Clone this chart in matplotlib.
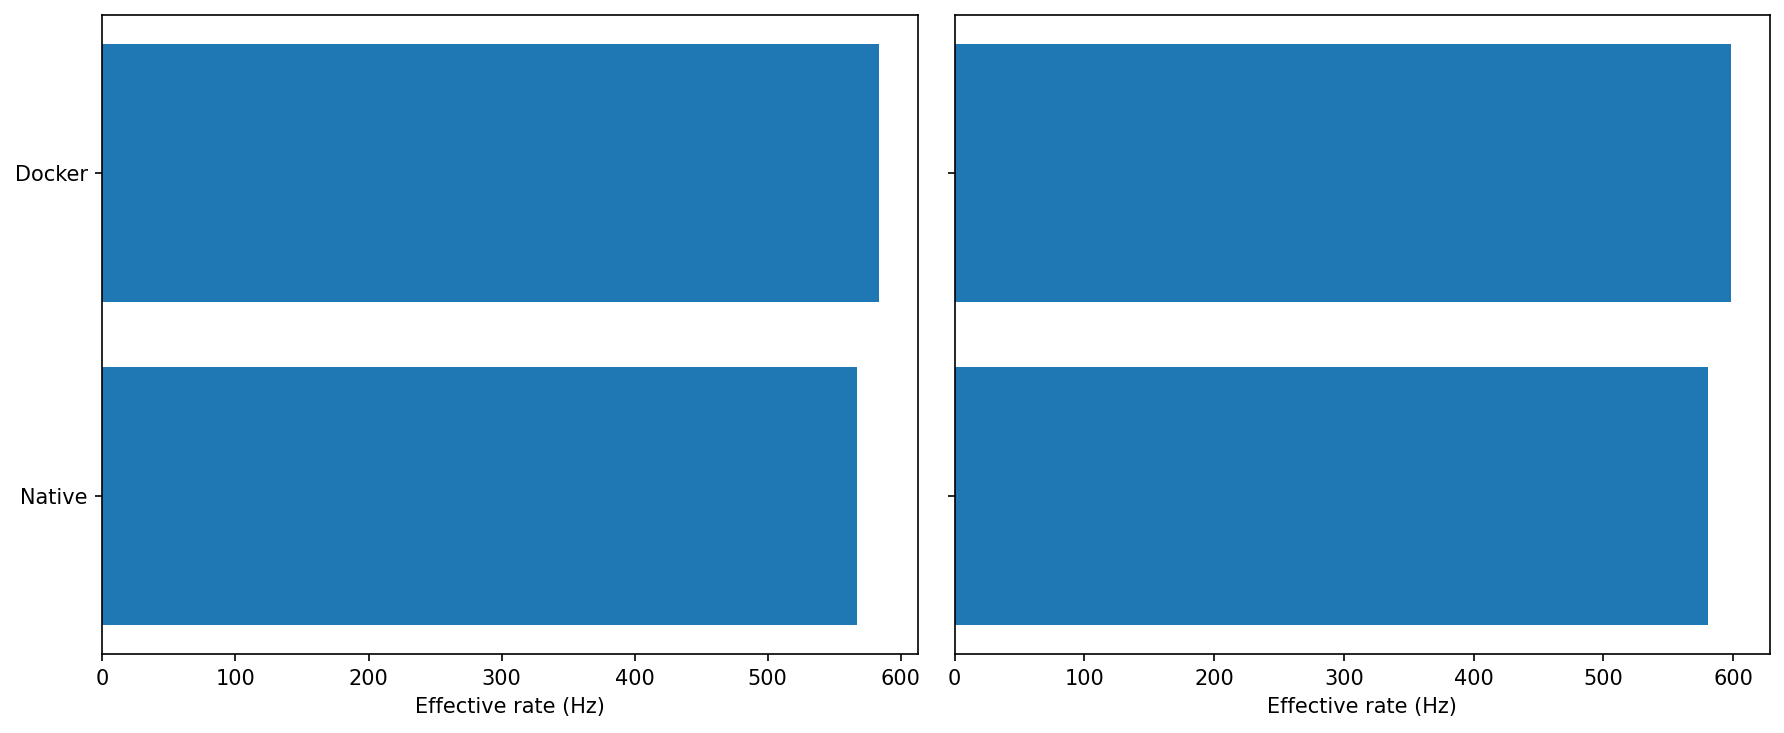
import matplotlib
matplotlib.use("Agg")
import matplotlib.pyplot as plt

labels = ["Native", "Docker"]
rate_left = [567.2, 583.7]
rate_right = [580.7, 598.5]

dpi = 150
fig, (ax1, ax2) = plt.subplots(1, 2, sharey=True, figsize=(1784 / dpi, 733 / dpi), dpi=dpi)

ax1.barh(labels, rate_left)
ax2.barh(labels, rate_right)

for ax in (ax1, ax2):
    ax.set_xlabel("Effective rate (Hz)")
    ax.set_xticks([0, 100, 200, 300, 400, 500, 600])

fig.subplots_adjust(left=0.0574, right=0.9922, bottom=0.1078, top=0.980, wspace=0.045)
fig.savefig("out.png", dpi=dpi)
